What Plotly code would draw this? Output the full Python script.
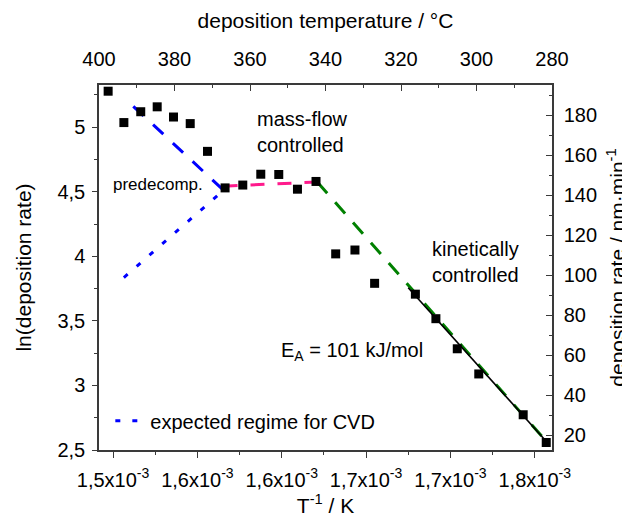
import plotly.graph_objects as go

# ---- data ----
inv_T = [1.4965e-3, 1.5077e-3, 1.5197e-3, 1.5314e-3, 1.5430e-3, 1.5549e-3, 1.5672e-3,
         1.5797e-3, 1.5923e-3, 1.6051e-3, 1.6179e-3, 1.6312e-3, 1.6444e-3, 1.6584e-3,
         1.6721e-3, 1.6861e-3, 1.7151e-3, 1.7297e-3, 1.7449e-3, 1.7602e-3, 1.7918e-3,
         1.8082e-3]
ln_rate = [5.279, 5.036, 5.120, 5.158, 5.079, 5.028, 4.813,
           4.530, 4.552, 4.636, 4.634, 4.520, 4.580, 4.019,
           4.049, 3.791, 3.707, 3.517, 3.284, 3.089, 2.773,
           2.558]

predecomp_x = [1.5144e-3, 1.5786e-3]
predecomp_y = [5.162, 4.512]
cvd_x = [1.5077e-3, 1.5786e-3]
cvd_y = [3.836, 4.512]
massflow_x = [1.5786e-3, 1.6453e-3]
massflow_y = [4.543, 4.576]
kinetic_x = [1.6453e-3, 1.8065e-3]
kinetic_y = [4.576, 2.588]
fit_x = [1.7100e-3, 1.8075e-3]
fit_y = [3.757, 2.576]

x_tickvals = [1.50e-3, 1.56e-3, 1.62e-3, 1.68e-3, 1.74e-3, 1.80e-3]
x_ticktext = ["1,5x10<sup>-3</sup>", "1,6x10<sup>-3</sup>", "1,6x10<sup>-3</sup>",
              "1,7x10<sup>-3</sup>", "1,7x10<sup>-3</sup>", "1,8x10<sup>-3</sup>"]
temp_ticks = [400, 380, 360, 340, 320, 300, 280]
rate_ticks = [20, 40, 60, 80, 100, 120, 140, 160, 180]

FONT = "Liberation Sans, Arial, sans-serif"
AX = "#3a3a3a"

fig = go.Figure()

fig.add_trace(go.Scatter(x=cvd_x, y=cvd_y, mode="lines", name="expected regime for CVD",
                         line=dict(color="#0000ff", width=3, dash="5px,12px")))
fig.add_trace(go.Scatter(x=predecomp_x, y=predecomp_y, mode="lines", showlegend=False,
                         line=dict(color="#0000ff", width=3, dash="14px,13px")))
fig.add_trace(go.Scatter(x=massflow_x, y=massflow_y, mode="lines", showlegend=False,
                         line=dict(color="#ff1a8c", width=3, dash="14px,13px")))
fig.add_trace(go.Scatter(x=kinetic_x, y=kinetic_y, mode="lines", showlegend=False,
                         line=dict(color="#008000", width=3, dash="15px,12px")))
fig.add_trace(go.Scatter(x=fit_x, y=fit_y, mode="lines", showlegend=False,
                         line=dict(color="#000000", width=1.6)))
fig.add_trace(go.Scatter(x=inv_T, y=ln_rate, mode="markers", showlegend=False,
                         marker=dict(symbol="square", size=9, color="#000000")))
# helper traces so the secondary axes are drawn
fig.add_trace(go.Scatter(x=[temp_ticks[0], temp_ticks[-1]], y=[None, None], xaxis="x2",
                         yaxis="y", showlegend=False, hoverinfo="skip"))
fig.add_trace(go.Scatter(x=[None, None], y=[rate_ticks[0], rate_ticks[-1]], xaxis="x",
                         yaxis="y2", showlegend=False, hoverinfo="skip"))

fig.update_layout(
    width=630, height=517,
    margin=dict(l=91, r=77, t=76, b=69),
    paper_bgcolor="white", plot_bgcolor="white",
    font=dict(family=FONT, size=20, color="#000000"),
    separators=",.",
    showlegend=True,
    legend=dict(x=0.025, y=0.08, xanchor="left", yanchor="middle",
                bgcolor="rgba(0,0,0,0)", font=dict(size=20)),
    xaxis=dict(range=[1.4900e-3, 1.8123e-3], tickmode="array", tickvals=x_tickvals,
               ticktext=x_ticktext, ticks="outside", ticklen=6, tickwidth=1.3,
               tickcolor=AX, showline=True, linecolor=AX, linewidth=1.5,
               showgrid=False, zeroline=False, ticklabelstandoff=5,
               minor=dict(tick0=1.47e-3, dtick=0.06e-3, ticks="outside", ticklen=3,
                          tickcolor=AX, showgrid=False),
               title=dict(text="T<sup>-1</sup> / K", font=dict(size=21), standoff=8)),
    xaxis2=dict(overlaying="x", side="top", anchor="y", range=[400, 280],
                tickmode="array", tickvals=temp_ticks, ticks="inside", ticklen=6,
                tickwidth=1.3, tickcolor=AX, showline=True, linecolor=AX, linewidth=1.5,
                showgrid=False, zeroline=False, ticklabelstandoff=9,
                minor=dict(tick0=390, dtick=20, ticks="inside", ticklen=3,
                           tickcolor=AX, showgrid=False),
                title=dict(text="deposition temperature / °C", font=dict(size=21),
                           standoff=14)),
    yaxis=dict(range=[2.5, 5.327], tick0=2.5, dtick=0.5, ticks="outside", ticklen=5,
               tickwidth=1.3, tickcolor=AX, showline=True, linecolor=AX, linewidth=1.5,
               showgrid=False, zeroline=False, ticklabelstandoff=3,
               minor=dict(tick0=2.5, dtick=0.25, ticks="outside", ticklen=3,
                          tickcolor=AX, showgrid=False),
               title=dict(text="ln(deposition rate)", font=dict(size=21), standoff=20)),
    yaxis2=dict(overlaying="y", side="right", anchor="x", range=[12.65, 195],
                tick0=20, dtick=20, ticks="inside", ticklen=6, tickwidth=1.3,
                tickcolor=AX, showline=True, linecolor=AX, linewidth=1.5,
                showgrid=False, zeroline=False, ticklabelstandoff=6,
                minor=dict(tick0=10, dtick=20, ticks="inside", ticklen=3,
                           tickcolor=AX, showgrid=False),
                title=dict(text="deposition rate / nm·min<sup>-1</sup>", font=dict(size=21),
                           standoff=14)),
)

fig.add_annotation(x=1.4985e-3, y=4.56, xref="x", yref="y", text="predecomp.",
                   showarrow=False, xanchor="left", yanchor="middle", font=dict(size=17))
fig.add_annotation(x=1.6010e-3, y=4.961, xref="x", yref="y",
                   text="mass-flow<br>controlled", showarrow=False, xanchor="left",
                   yanchor="middle", align="left", font=dict(size=20))
fig.add_annotation(x=1.7581e-3, y=3.96, xref="x", yref="y",
                   text="kinetically<br>controlled", showarrow=False, xanchor="center",
                   yanchor="middle", align="center", font=dict(size=20))
fig.add_annotation(x=1.6180e-3, y=3.262, xref="x", yref="y",
                   text="E<sub>A</sub> = 101 kJ/mol", showarrow=False, xanchor="left",
                   yanchor="middle", font=dict(size=20))

fig.write_html("out.html")
